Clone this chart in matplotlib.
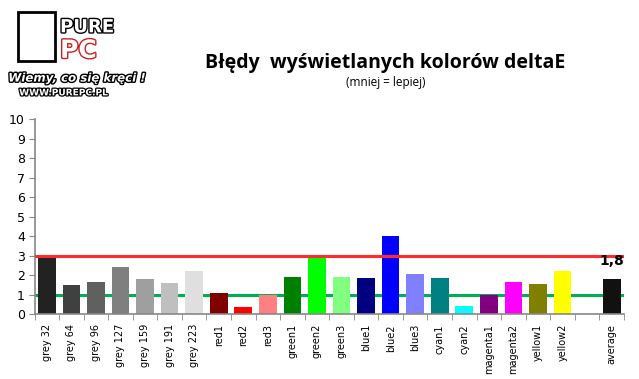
import matplotlib
matplotlib.use("Agg")
import matplotlib.pyplot as plt
import matplotlib.patheffects as pe
from matplotlib.patches import Rectangle

# Dane
kategorie = ["grey 32", "grey 64", "grey 96", "grey 127", "grey 159", "grey 191", "grey 223",
             "red1", "red2", "red3", "green1", "green2", "green3", "blue1", "blue2", "blue3",
             "cyan1", "cyan2", "magenta1", "magenta2", "yellow1", "yellow2", "", "average"]
wartosci = [3.0, 1.5, 1.66, 2.43, 1.81, 1.6, 2.22,
            1.09, 0.37, 0.99, 1.91, 2.89, 1.91, 1.86, 4.02, 2.07,
            1.86, 0.43, 0.99, 1.66, 1.55, 2.22, 0, 1.81]
kolory = ["#222222", "#404040", "#606060", "#7f7f7f", "#9f9f9f", "#bfbfbf", "#dfdfdf",
          "#800000", "#ff0000", "#ff8080", "#008000", "#00ff00", "#80ff80",
          "#000080", "#0000ff", "#8080ff", "#008080", "#00ffff", "#800080", "#ff00ff",
          "#808000", "#ffff00", "#ffffff", "#111111"]
prog_czerwony = 3
prog_zielony = 1
etykieta_sredniej = "1,8"

fig = plt.figure(figsize=(6.39, 3.79), dpi=100)
ax = fig.add_axes([0.054, 0.1707, 0.9225, 0.5153])

x = list(range(len(kategorie)))
ax.bar(x, wartosci, width=0.72, color=kolory, zorder=2)
ax.axhline(prog_czerwony, color="#ff2a2a", lw=2.2, zorder=3)
ax.axhline(prog_zielony, color="#00b050", lw=2.2, zorder=1)

ax.set_xlim(-0.5, len(kategorie) - 0.5)
ax.set_ylim(0, 10)
ax.set_yticks(range(0, 11))
ax.tick_params(axis="y", labelsize=9, length=4, color="#888888", pad=3)
ax.set_xticks(x)
ax.set_xticklabels(kategorie, rotation=90, fontsize=7, family="DejaVu Sans")
ax.tick_params(axis="x", length=0, pad=7)
ax.set_xticks([i - 0.5 for i in range(len(kategorie) + 1)], minor=True)
ax.tick_params(axis="x", which="minor", length=4, color="#888888")
for s in ["top", "right"]:
    ax.spines[s].set_visible(False)
for s in ["left", "bottom"]:
    ax.spines[s].set_color("#888888")
    ax.spines[s].set_linewidth(1.2)

ax.text(x[-1], wartosci[-1] + 0.55, etykieta_sredniej, ha="center", va="bottom",
        fontsize=10, fontweight="bold")

# Tytuł
fig.text(0.603, 0.834, "Błędy  wyświetlanych kolorów deltaE", ha="center", va="center",
         fontsize=14, fontweight="bold", family="Open Sans")
fig.text(0.603, 0.783, "(mniej = lepiej)", ha="center", va="center", fontsize=8.5,
         family="Open Sans")

# Logo
obrys = [pe.withStroke(linewidth=2, foreground="black")]
fig.patches.append(Rectangle((0.028, 0.838), 0.058, 0.13, transform=fig.transFigure,
                             fill=False, ec="black", lw=2))
fig.text(0.094, 0.928, "PURE", fontsize=13, color="white", fontweight="bold",
         va="center", path_effects=obrys)
fig.text(0.094, 0.866, "PC", fontsize=18, color="white", fontweight="bold",
         va="center", path_effects=[pe.withStroke(linewidth=2, foreground="#cc1f1f")])
fig.text(0.013, 0.794, "Wiemy, co się kręci !", fontsize=8.5, color="white",
         fontstyle="italic", fontweight="bold", va="center", path_effects=obrys)
fig.text(0.03, 0.755, "WWW.PUREPC.PL", fontsize=6.5, color="white", fontweight="bold",
         va="center", path_effects=[pe.withStroke(linewidth=1.8, foreground="black")])

fig.savefig("out.png", dpi=100)
